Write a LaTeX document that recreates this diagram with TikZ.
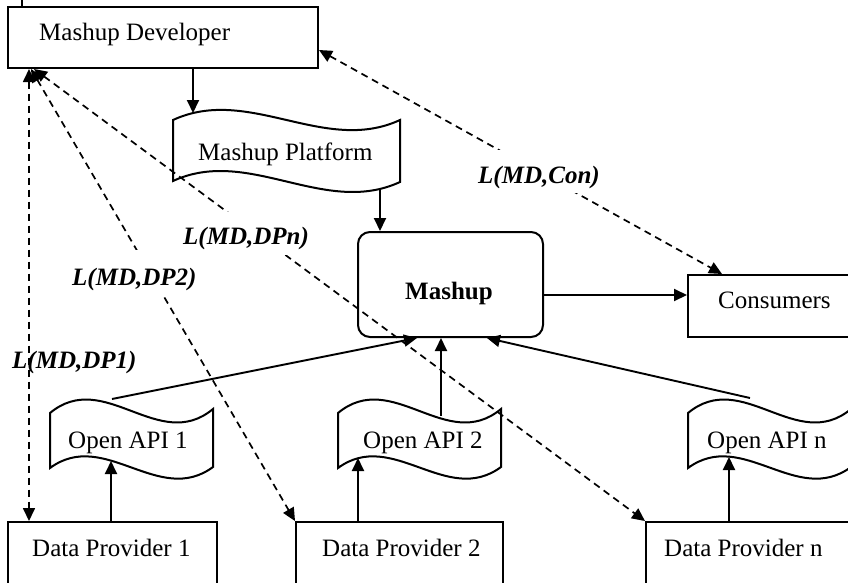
\documentclass[tikz,border=0pt]{standalone}
\usepackage{fontspec}
\setmainfont{Liberation Serif}
\usetikzlibrary{arrows.meta}
\begin{document}
\begin{tikzpicture}[x=1pt,y=-1pt,
  box/.style={draw, line width=2pt, inner sep=0pt},
  txt/.style={font=\fontsize{25}{30}\selectfont, inner sep=0pt, anchor=base west},
  btxt/.style={font=\fontsize{25}{30}\selectfont\bfseries, inner sep=0pt, anchor=base west},
  lab/.style={font=\fontsize{25}{30}\selectfont\bfseries\itshape, inner sep=0pt, anchor=base west},
  arr/.style={line width=1.9pt, -{Triangle[length=13pt,width=12pt]}},
  darr/.style={line width=1.7pt, dash pattern=on 7pt off 5pt, {Triangle[length=13pt,width=12pt]}-{Triangle[length=13pt,width=12pt]}},
  wave/.style={draw, line width=2pt, fill=white}]
\clip (0,0) rectangle (848,582);
% top tick
\draw[line width=1.6pt] (22,0) -- (22,7);
% Mashup Developer
\node[box, minimum width=310pt, minimum height=61pt] (md) at (163,37.5) {};
\node[txt] (mdt) at (39,40) {Mashup Developer};
% Mashup Platform
\draw[wave] (173,120) .. controls (248.7,85) and (324.3,155) .. (400,120) -- (400,182) .. controls (324.3,217) and (248.7,146) .. (173,181) -- cycle;
\node[txt] (mp) at (198,160) {Mashup Platform};
\coordinate (mptop) at (193,113);
\coordinate (mpbot) at (380,188);
% Mashup
\node[box, rounded corners=12pt, minimum width=185pt, minimum height=105pt] (mash) at (450.5,284.5) {};
\node[btxt] (masht) at (405,299) {Mashup};
% Consumers
\node[box, minimum width=162pt, minimum height=62pt] (cons) at (769,306) {};
\node[txt] (const) at (718,308) {Consumers};
% Open APIs
\foreach \L in {50,338,688} {
  \draw[wave] (\L,413) .. controls ({\L+54.3},368) and ({\L+108.7},454) .. ({\L+163},409) -- ({\L+163},467) .. controls ({\L+108.7},507) and ({\L+54.3},428) .. (\L,468) -- cycle;
}
\node[txt] (api1) at (68,448) {Open API 1};
\node[txt] (api2) at (363,448) {Open API 2};
\node[txt] (apin) at (707,448) {Open API n};
\coordinate (api1top) at (112,399);
\coordinate (api2top) at (441,416);
\coordinate (apintop) at (750,398);
\coordinate (api1bot) at (111,461);
\coordinate (api2bot) at (358,458);
\coordinate (apinbot) at (729,457);
% Data Providers
\node[box, minimum width=209pt, minimum height=78pt] (dp1) at (112.5,561) {};
\node[box, minimum width=207pt, minimum height=78pt] (dp2) at (399.5,561) {};
\node[box, minimum width=207pt, minimum height=78pt] (dpn) at (749.5,561) {};
\node[txt] (dp1t) at (32,556) {Data Provider 1};
\node[txt] (dp2t) at (322,556) {Data Provider 2};
\node[txt] (dpnt) at (664,556) {Data Provider n};
% solid connectors
\draw[arr] (mptop |- md.south) -- (mptop);
\draw[arr] (mpbot) -- (mpbot |- mash.north);
\draw[arr] (mash.east |- 0,295) -- (cons.west |- 0,295);
\draw[arr] (api1top) -- (417,0 |- mash.south);
\draw[arr] (api2top) -- (api2top |- mash.south);
\draw[arr] (apintop) -- (487,0 |- mash.south);
\draw[arr] (api1bot |- dp1.north) -- (api1bot);
\draw[arr] (api2bot |- dp2.north) -- (api2bot);
\draw[arr] (apinbot |- dpn.north) -- (apinbot);
% dashed connectors
\draw[darr] (29,0 |- md.south) -- (29,0 |- dp1.north);
\draw[darr] (31,0 |- md.south) -- (dp2.north west);
\draw[darr] (34,0 |- md.south) -- (dpn.north west);
\draw[darr] (md.east |- 0,50) -- (722,0 |- cons.north);
% labels
\node[lab] (l1) at (12,368) {L(MD,DP1)};
\node[lab, fill=white, text height=35pt, text depth=11pt] (l2) at (72,285) {L(MD,DP2)};
\node[lab, fill=white, text height=32pt, text depth=11pt] (ln) at (183,244) {L(MD,DPn)};
\node[lab, fill=white, text height=33pt, text depth=10pt] (lc) at (478,183) {L(MD,Con)};
\end{tikzpicture}
\end{document}
